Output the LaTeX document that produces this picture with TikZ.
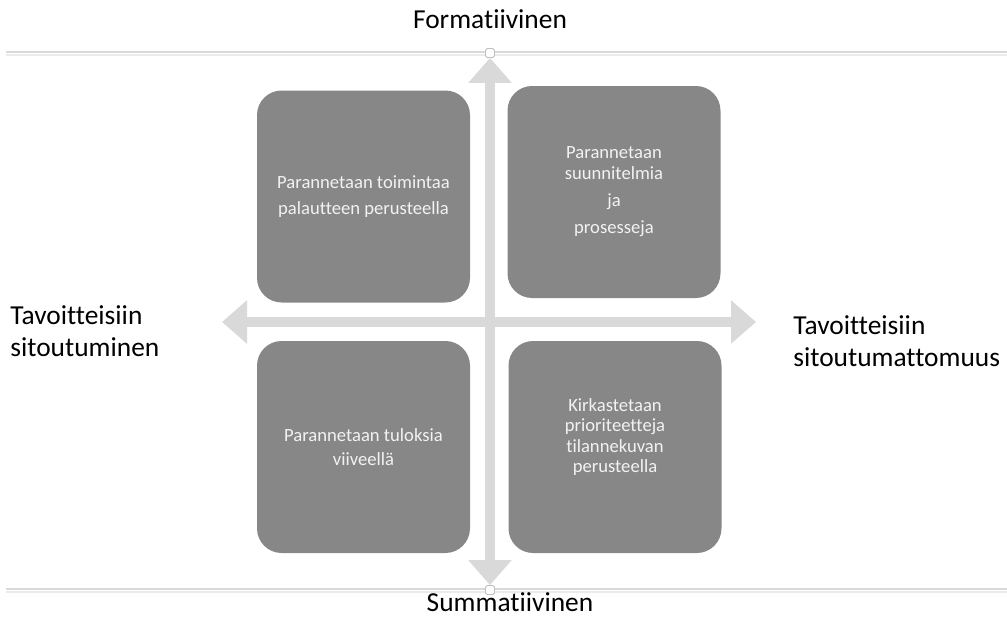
\documentclass[tikz,border=0pt]{standalone}
\usepackage{fontspec}
\setmainfont{Carlito}[Ligatures={NoCommon,NoContextual}]
\definecolor{qdBox}{HTML}{878787}
\definecolor{qdBoxText}{HTML}{F2F2F2}
\definecolor{qdArrow}{HTML}{D9D9D9}
\definecolor{qdRule}{HTML}{D9D9D9}
\definecolor{qdRuleLight}{HTML}{EBEBEB}
\definecolor{qdHandle}{HTML}{BFBFBF}
\usetikzlibrary{arrows.meta}

\tikzset{
  quadbox/.style={fill=qdBox, rounded corners=14pt, minimum width=4.26cm, minimum height=4.24cm,
    text=qdBoxText, align=center, font=\fontsize{10.6}{11.6}\selectfont},
  axislabel/.style={font=\fontsize{15.6}{18.2}\selectfont, inner sep=0pt, align=left},
  axisarrow/.style={qdArrow, line width=0.21cm, <->, >={Triangle[width=0.84cm,length=0.5cm]}},
  handlebox/.style={draw=qdHandle, fill=white, minimum size=0.18cm, inner sep=0pt,
    rounded corners=1pt, line width=0.5pt}
}

\begin{document}
\begin{tikzpicture}
  \useasboundingbox (0,0) rectangle (20.14,12.34);
  % slide rules, top and bottom
  \draw[qdRule, line width=1.2pt] (0.12,11.30) -- (20.14,11.30);
  \draw[qdRuleLight, line width=0.6pt] (0.12,11.24) -- (20.14,11.24);
  \draw[qdRule, line width=1.2pt] (0.12,0.56) -- (20.14,0.56);
  \draw[qdRuleLight, line width=0.6pt] (0.12,0.50) -- (20.14,0.50);

  % axes
  \node[handlebox] (formEnd) at (9.80,11.28) {};
  \node[handlebox] (summEnd) at (9.80,0.54) {};
  \coordinate (sitEnd) at (4.44,5.90);
  \coordinate (unsitEnd) at (15.12,5.90);
  \draw[axisarrow] (formEnd.south) -- (summEnd.north);
  \draw[axisarrow] (sitEnd) -- (unsitEnd);

  \node[axislabel, anchor=base] (formLabel) at (9.80,11.78) {Formatiivinen};
  \node[axislabel, anchor=base] (summLabel) at (10.20,0.11) {Summatiivinen};
  \node[axislabel, anchor=north west] (sitLabel) at (0.20,6.24) {Tavoitteisiin\\sitoutuminen};
  \node[axislabel, anchor=north west] (unsitLabel) at (15.86,6.04) {Tavoitteisiin\\sitoutumattomuus};

  % quadrants
  \node[quadbox] (feedback) at (7.27,8.41) {Parannetaan toimintaa\\[3pt]palautteen perusteella};
  \node[quadbox] (plans) at (12.28,8.50) {Parannetaan\\suunnitelmia\\[4pt]ja\\[4pt]prosesseja};
  \node[quadbox] (results) at (7.27,3.40) {Parannetaan tuloksia\\[1.6pt]viiveellä};
  \node[quadbox, text depth=0.46cm] (priorities) at (12.30,3.40) {Kirkastetaan\\prioriteetteja\\tilannekuvan\\perusteella};
\end{tikzpicture}
\end{document}
